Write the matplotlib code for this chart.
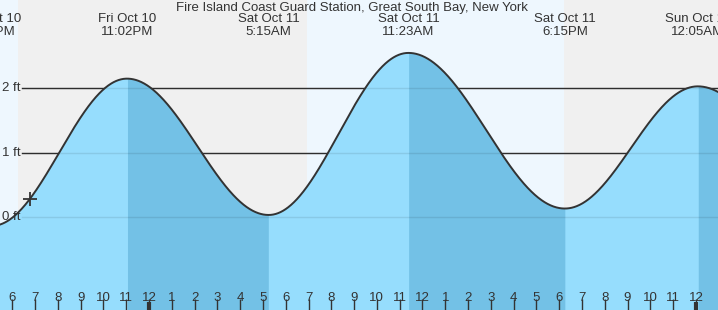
import matplotlib
matplotlib.use("Agg")
import matplotlib.pyplot as plt
import numpy as np
from matplotlib.transforms import blended_transform_factory

plt.rcParams["font.family"] = ["Liberation Sans", "DejaVu Sans"]

TITLE = "Fire Island Coast Guard Station, Great South Bay, New York"

# tide extremes, hours since Fri Oct 10 00:00
tide_hours = [17.1, 23.033, 29.25, 35.383, 42.25, 48.083, 54.6]
tide_feet = [-0.14, 2.15, 0.03, 2.55, 0.13, 2.03, 0.10]
tide_days = ["Fri Oct 10", "Fri Oct 10", "Sat Oct 11", "Sat Oct 11", "Sat Oct 11", "Sun Oct 12", "Sun Oct 12"]
tide_clock = ["5:06PM", "11:02PM", "5:15AM", "11:23AM", "6:15PM", "12:05AM", "6:36AM"]

# sunset / sunrise
sun_events = [18.25, 30.93, 42.23]
now_hour = 18.78

y_ticks = [0, 1, 2]
y_labels = ["0 ft", "1 ft", "2 ft"]

x_min, x_max = 17.46, 48.97
y_min, y_max = -1.448, 3.373

NIGHT = "#f0f0f0"
DAY = "#eef7fe"
RISE = "#96ddfd"
FALL = "#73c1e6"
INK = "#333333"


def tide_curve(t):
    """Cosine interpolation between consecutive high/low tides."""
    out = np.empty_like(t)
    for i in range(len(tide_hours) - 1):
        t0, t1 = tide_hours[i], tide_hours[i + 1]
        h0, h1 = tide_feet[i], tide_feet[i + 1]
        m = (t >= t0) & (t <= t1)
        phase = (t[m] - t0) / (t1 - t0) * np.pi
        out[m] = h0 + (h1 - h0) * (1 - np.cos(phase)) / 2
    return out


fig = plt.figure(figsize=(7.18, 3.10), dpi=100)
ax = fig.add_axes([0, 0, 1, 1])
ax.set_xlim(x_min, x_max)
ax.set_ylim(y_min, y_max)
for s in ax.spines.values():
    s.set_visible(False)

# day / night background
edges = [x_min] + sun_events + [x_max]
for i in range(len(edges) - 1):
    ax.axvspan(edges[i], edges[i + 1], color=DAY if i % 2 == 0 else NIGHT,
               zorder=0, lw=0, antialiased=False)

# gridlines: dark over the sky, faint over the water
for v in y_ticks:
    ax.axhline(v, xmin=22 / 718, xmax=1, color=INK, lw=1, zorder=1)
    ax.axhline(v, xmin=22 / 718, xmax=1, color="black", alpha=0.09, lw=1, zorder=2.5)

t = np.linspace(x_min - 0.5, x_max + 0.5, 1500)
h = tide_curve(t)

# water: rising tide light, falling tide darker on top
ax.fill_between(t, y_min, h, color=RISE, lw=0, zorder=2)
for i in range(len(tide_hours) - 1):
    if tide_feet[i + 1] < tide_feet[i]:
        m = (t >= tide_hours[i]) & (t <= tide_hours[i + 1])
        ax.fill_between(t[m], y_min, h[m], color=FALL, lw=0, zorder=2.1,
                        antialiased=False)

ax.plot(t, h, color=INK, lw=1.4, zorder=3)

now_ft = tide_curve(np.array([now_hour]))[0]
ax.plot([now_hour], [now_ft], marker="+", ms=10, mew=1.3, color=INK, zorder=4)

# y labels
yt = blended_transform_factory(ax.transAxes, ax.transData)
for v, lab in zip(y_ticks, y_labels):
    ax.text(2 / 718, v, lab, transform=yt, ha="left", va="center",
            fontsize=9.5, color=INK, zorder=5)

# tide time labels
xt = blended_transform_factory(ax.transData, ax.transAxes)
for th, d, c in zip(tide_hours, tide_days, tide_clock):
    if x_min - 2 < th < x_max + 2:
        ax.text(th, 1 - 19 / 310, d, transform=xt, ha="center", va="center",
                fontsize=9.5, color=INK, zorder=5)
        ax.text(th, 1 - 32 / 310, c, transform=xt, ha="center", va="center",
                fontsize=9.5, color=INK, zorder=5)

fig.text(0.49, 1 - 8 / 310, TITLE, ha="center", va="center", fontsize=9.5, color=INK)

# hour ticks along the bottom
hours = np.arange(18, 49)
ax.set_xticks(hours)
ax.set_xticklabels([str((int(x) - 1) % 12 + 1) for x in hours])
ax.tick_params(axis="x", direction="in", length=8, width=1, color=INK,
               pad=-13, labelsize=9.5, labelcolor=INK)
ax.set_yticks([])
ax.xaxis.set_zorder(6)
for x in hours:
    if x % 24 == 0:
        ax.plot([x, x], [0, 8 / 310], transform=xt, color=INK, lw=3, zorder=7,
                solid_capstyle="butt")

fig.savefig("out.png", dpi=100)
